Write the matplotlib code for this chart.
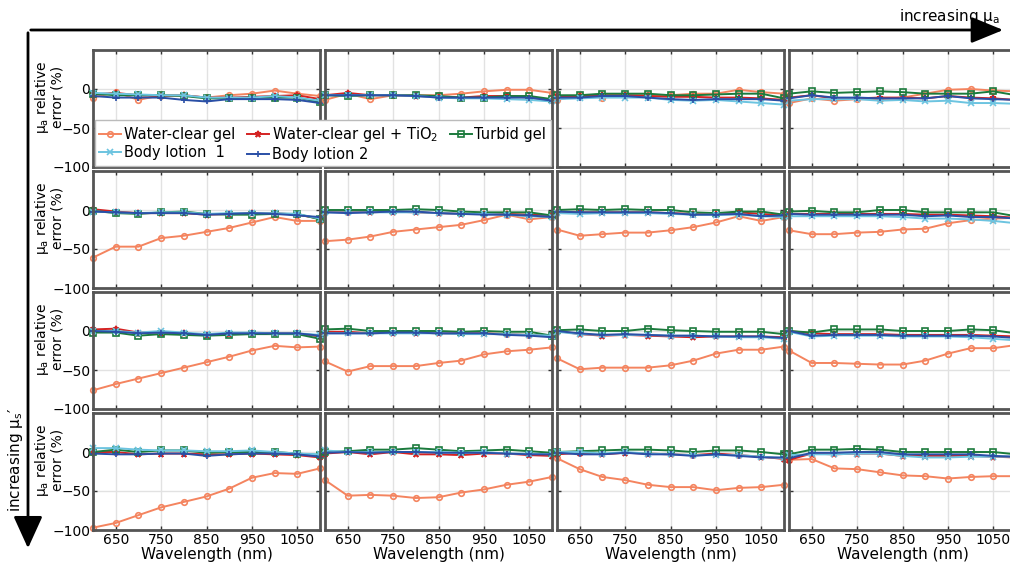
import matplotlib
matplotlib.use("Agg")
import matplotlib.pyplot as plt
from matplotlib.patches import FancyArrowPatch

# wavelengths (nm), same for all panels
wavelength = [600, 650, 700, 750, 800, 850, 900, 950, 1000, 1050, 1100]

# mu_a relative error (%), [row = increasing mus'][col = increasing mua][wavelength]
water_clear = [
    [[-11, -4, -14, -8, -8, -11, -8, -6, -2, -6, -9],
     [-14, -6, -13, -8, -8, -8, -6, -3, -1, -1, -5],
     [-14, -8, -11, -8, -8, -8, -6, -6, -1, -4, -6],
     [-18, -12, -15, -13, -13, -11, -6, -1, 0, -2, -3]],
    [[-61, -47, -47, -36, -33, -28, -23, -16, -9, -14, -14],
     [-40, -38, -34, -28, -25, -22, -19, -13, -6, -12, -9],
     [-25, -33, -31, -29, -29, -26, -22, -16, -8, -14, -9],
     [-26, -31, -31, -29, -28, -25, -24, -17, -13, -11, -10]],
    [[-76, -68, -61, -54, -47, -40, -33, -25, -19, -21, -20],
     [-39, -52, -45, -45, -45, -41, -38, -30, -26, -24, -21],
     [-35, -49, -47, -47, -47, -44, -38, -29, -24, -24, -20],
     [-25, -41, -41, -42, -43, -43, -38, -29, -22, -22, -18]],
    [[-97, -91, -81, -71, -64, -57, -47, -33, -27, -28, -21],
     [-36, -56, -55, -56, -59, -58, -52, -48, -42, -38, -32],
     [-8, -22, -32, -36, -42, -45, -45, -49, -46, -45, -42],
     [-10, -9, -21, -22, -26, -30, -31, -34, -32, -31, -31]],
]

water_clear_tio2 = [
    [[-7, -5, -8, -9, -8, -11, -11, -10, -9, -8, -13],
     [-8, -5, -8, -8, -9, -10, -11, -9, -9, -11, -14],
     [-9, -9, -8, -8, -9, -10, -10, -11, -11, -12, -14],
     [-11, -8, -12, -12, -11, -11, -12, -9, -11, -12, -14]],
    [[1, -2, -4, -4, -4, -6, -5, -4, -4, -6, -11],
     [-2, -2, -3, -2, -3, -4, -5, -5, -5, -6, -7],
     [-2, -3, -3, -3, -3, -4, -5, -5, -3, -5, -7],
     [-5, -5, -5, -5, -5, -5, -6, -6, -7, -8, -10]],
    [[2, 3, -2, -2, -3, -5, -4, -3, -3, -3, -7],
     [-1, -1, -3, -2, -2, -3, -3, -3, -4, -5, -6],
     [0, -4, -6, -5, -6, -7, -8, -7, -7, -7, -8],
     [0, -3, -4, -4, -4, -5, -5, -5, -5, -6, -7]],
    [[0, 0, -3, -2, -2, -3, -3, -2, -3, -4, -7],
     [-2, 0, -3, 0, -3, -3, -4, -2, -2, -4, -5],
     [-3, -1, -3, -1, -2, -3, -4, -2, -4, -6, -9],
     [-10, -2, -3, -2, -2, -5, -5, -5, -5, -6, -7]],
]

turbid_gel = [
    [[-6, -8, -8, -8, -9, -12, -12, -11, -11, -11, -17],
     [-8, -9, -8, -8, -8, -9, -11, -11, -9, -9, -13],
     [-8, -8, -6, -6, -6, -8, -8, -7, -6, -6, -12],
     [-6, -3, -5, -4, -3, -4, -6, -6, -6, -3, -8]],
    [[-1, -4, -5, -3, -2, -5, -6, -6, -5, -5, -12],
     [0, 0, 0, 0, 1, 0, -2, -3, -3, -3, -7],
     [0, 1, 0, 1, 0, 0, -3, -4, -2, -2, -6],
     [-2, -1, -3, -3, 0, 0, -3, -3, -3, -3, -8]],
    [[-2, -2, -6, -4, -5, -6, -5, -4, -4, -4, -10],
     [2, 3, 0, 0, 0, 0, -1, 0, -1, -1, -6],
     [1, 2, 0, 0, 3, 1, 0, -1, -1, -1, -4],
     [0, -2, 2, 2, 2, 0, 0, 0, 2, 1, -3]],
    [[0, 3, 0, 2, 2, -1, 0, 0, 0, -2, -4],
     [0, 1, 3, 3, 5, 3, 1, 2, 3, 1, -1],
     [0, 1, 2, 3, 3, 2, 0, 2, 2, 0, -3],
     [-3, 3, 3, 4, 3, 0, 0, 0, 0, 0, -3]],
]

body_lotion_1 = [
    [[-5, -6, -7, -8, -8, -11, -11, -11, -9, -11, -15],
     [-8, -8, -8, -8, -9, -11, -12, -12, -13, -14, -16],
     [-13, -12, -11, -11, -11, -14, -15, -14, -16, -18, -20],
     [-15, -13, -13, -13, -15, -14, -16, -15, -18, -18, -19]],
    [[-2, -3, -4, -3, -3, -5, -4, -4, -4, -5, -11],
     [-3, -3, -3, -3, -3, -4, -5, -5, -6, -8, -9],
     [-4, -5, -4, -4, -4, -5, -6, -6, -6, -8, -9],
     [-8, -8, -8, -8, -8, -9, -11, -11, -12, -14, -17]],
    [[0, 0, -2, 0, -2, -4, -2, -2, -3, -3, -5],
     [-3, -3, -3, -3, -3, -3, -4, -4, -4, -5, -6],
     [-1, -4, -5, -5, -5, -6, -6, -7, -8, -8, -10],
     [-1, -7, -6, -6, -6, -7, -7, -7, -8, -10, -12]],
    [[5, 5, 3, 2, 2, 1, 1, 2, 0, -2, -3],
     [2, 0, 0, 0, 0, 0, -1, 0, -2, -2, -3],
     [0, 0, -2, 0, -2, -3, -4, -4, -4, -6, -8],
     [-4, -3, -3, -2, -2, -5, -7, -7, -6, -6, -6]],
]

body_lotion_2 = [
    [[-9, -11, -11, -11, -14, -16, -13, -13, -13, -14, -18],
     [-8, -8, -8, -8, -9, -11, -11, -11, -11, -11, -15],
     [-11, -11, -9, -9, -11, -13, -14, -13, -13, -13, -15],
     [-12, -8, -11, -11, -12, -12, -12, -9, -12, -13, -14]],
    [[-2, -3, -4, -4, -4, -6, -5, -4, -5, -7, -9],
     [-3, -4, -3, -2, -2, -4, -5, -6, -6, -7, -9],
     [-2, -3, -3, -3, -3, -4, -6, -6, -5, -8, -7],
     [-5, -6, -6, -6, -6, -6, -8, -7, -9, -9, -11]],
    [[0, -1, -3, -2, -3, -5, -3, -3, -3, -3, -6],
     [-3, -3, -3, -2, -2, -3, -3, -3, -5, -6, -8],
     [0, -3, -5, -4, -5, -6, -6, -7, -7, -7, -9],
     [0, -6, -5, -5, -5, -6, -6, -6, -6, -7, -9]],
    [[-2, -3, -3, -2, -2, -5, -3, -2, -2, -3, -6],
     [-1, 0, -1, 0, 0, -1, -1, -1, -2, -3, -3],
     [-1, -3, -3, -1, -3, -3, -5, -3, -5, -7, -7],
     [-8, -1, -1, 0, 0, -3, -3, -3, -3, -5, -6]],
]

series_names = ['Water-clear gel', 'Water-clear gel + TiO$_2$', 'Turbid gel',
                'Body lotion  1', 'Body lotion 2']
x_ticks = [650, 750, 850, 950, 1050]
y_ticks = [-100, -50, 0]

# styles: (data, color, marker, open marker?)
styles = [
    (water_clear, '#f4845f', 'o', True),
    (water_clear_tio2, '#d42222', '*', False),
    (turbid_gel, '#1b7a3c', 's', True),
    (body_lotion_1, '#6cc4e0', 'x', False),
    (body_lotion_2, '#2a4fa6', '+', False),
]

W, H = 1010, 573
fig = plt.figure(figsize=(W / 100, H / 100), dpi=100)
plt.rcParams['font.family'] = 'DejaVu Sans'

col_left = [93, 325, 557, 789]
row_top = [50, 171, 292, 413]
pw, ph = 227, 117

handles = []
for r in range(4):
    for c in range(4):
        ax = fig.add_axes([col_left[c] / W, 1 - (row_top[r] + ph) / H, pw / W, ph / H])
        for k, (data, color, marker, hollow) in enumerate(styles):
            ms = 5 if marker == '*' else 4
            ln, = ax.plot(wavelength, data[r][c], color=color, marker=marker, lw=1.4,
                          ms=ms, mew=1.2, mfc='none' if hollow else color,
                          clip_on=False, label=series_names[k])
            if r == 0 and c == 0:
                handles.append(ln)
        ax.set_xlim(600, 1100)
        ax.set_ylim(-100, 50)
        ax.set_xticks(x_ticks)
        ax.set_yticks(y_ticks)
        ax.grid(True, color='#e2e2e2', lw=1)
        ax.set_axisbelow(True)
        ax.tick_params(direction='in', length=3, width=1, color='#333333',
                       top=True, right=True, labelsize=10, pad=2)
        for s in ax.spines.values():
            s.set_color('#555555')
            s.set_linewidth(2)
        if c > 0:
            ax.set_yticklabels([])
        else:
            ax.text(-0.195, 0.6, '$\\mathregular{\\mu_a}$ relative\nerror (%)',
                    transform=ax.transAxes, rotation=90, ha='center', va='center',
                    fontsize=10, linespacing=0.95)
        if r < 3:
            ax.set_xticklabels([])
        else:
            ax.set_xlabel('Wavelength (nm)', fontsize=11, labelpad=0)

# legend rows: [water, tio2, turbid] / [lotion1, lotion2]
order = [0, 3, 1, 4, 2]
fig.legend([handles[i] for i in order], [series_names[i] for i in order],
           ncol=3, loc='lower left', bbox_to_anchor=(95 / W, 1 - 166 / H),
           fontsize=10.5, frameon=True, fancybox=False, edgecolor='#bbbbbb',
           framealpha=1, handlelength=1.5, handletextpad=0.2, columnspacing=0.8,
           labelspacing=0.2, borderpad=0.3, borderaxespad=0)

# axis arrows
fig.add_artist(FancyArrowPatch((28 / W, 1 - 30 / H), (1006 / W, 1 - 30 / H),
                               transform=fig.transFigure, arrowstyle='-|>,head_length=1.1,head_width=0.45',
                               mutation_scale=18, lw=2, color='black'))
fig.add_artist(FancyArrowPatch((28 / W, 1 - 30 / H), (28 / W, 1 - 551 / H),
                               transform=fig.transFigure, arrowstyle='-|>,head_length=1.1,head_width=0.5',
                               mutation_scale=18, lw=2, color='black'))
fig.text(1000 / W, 1 - 17 / H, 'increasing $\\mathregular{\\mu_a}$', ha='right', va='center', fontsize=11)
fig.text(16 / W, 1 - 460 / H, "increasing $\\mathregular{\\mu_s}$\u2032", rotation=90,
         ha='center', va='center', fontsize=11)

fig.savefig('out.png', dpi=100)
